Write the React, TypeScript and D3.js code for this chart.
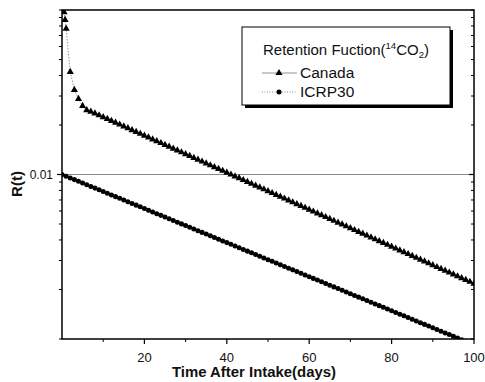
import React from 'react';
import * as d3 from 'd3';

// Canada model: first few points read individually, then one point per day from day 7
const canadaEarlyDays = [0.5, 0.75, 1, 2, 3, 4, 5, 6];
const canadaEarly = [0.097, 0.087, 0.077, 0.042, 0.0327, 0.0288, 0.0261, 0.0246];
const canadaDailyStart = 7;
const canadaDaily = [
  0.02412, 0.0235, 0.0229, 0.02232, 0.02175, 0.02119, 0.02065, 0.02012, 0.01961, 0.01911,
  0.01862, 0.01814, 0.01768, 0.01723, 0.01679, 0.01636, 0.01594, 0.01553, 0.01513, 0.01475,
  0.01437, 0.014, 0.01365, 0.0133, 0.01296, 0.01263, 0.0123, 0.01199, 0.01168, 0.01138,
  0.01109, 0.01081, 0.01053, 0.01026, 0.01, 0.009744, 0.009495, 0.009253, 0.009016, 0.008786,
  0.008561, 0.008343, 0.008129, 0.007922, 0.007719, 0.007521, 0.007329, 0.007142, 0.006959, 0.006781,
  0.006608, 0.006439, 0.006275, 0.006114, 0.005957, 0.005805, 0.005657, 0.005512, 0.005371, 0.005234,
  0.0051, 0.00497, 0.004843, 0.004719, 0.004598, 0.004481, 0.004366, 0.004254, 0.004146, 0.00404,
  0.003936, 0.003836, 0.003738, 0.003642, 0.003549, 0.003458, 0.00337, 0.003284, 0.0032, 0.003118,
  0.003038, 0.002961, 0.002885, 0.002811, 0.002739, 0.002669, 0.002601, 0.002535, 0.00247, 0.002407,
  0.002345, 0.002285, 0.002227, 0.00217,
];

// ICRP30: one point per day from day 0
const icrpStart = 0;
const icrp30 = [
  0.01, 0.009764, 0.009535, 0.00931, 0.009091, 0.008877, 0.008668, 0.008464, 0.008264, 0.00807,
  0.00788, 0.007694, 0.007513, 0.007336, 0.007163, 0.006995, 0.00683, 0.006669, 0.006512, 0.006359,
  0.006208, 0.006062, 0.005919, 0.00578, 0.005644, 0.005511, 0.005381, 0.005254, 0.005131, 0.00501,
  0.004891, 0.004776, 0.004664, 0.004554, 0.004447, 0.004342, 0.00424, 0.00414, 0.004042, 0.003947,
  0.003854, 0.003763, 0.003675, 0.003588, 0.003504, 0.003421, 0.00334, 0.003262, 0.003185, 0.00311,
  0.003036, 0.002965, 0.002895, 0.002827, 0.00276, 0.002695, 0.002632, 0.00257, 0.002509, 0.00245,
  0.002392, 0.002336, 0.002281, 0.002227, 0.002175, 0.002124, 0.002074, 0.002025, 0.001977, 0.00193,
  0.001885, 0.001841, 0.001797, 0.001755, 0.001714, 0.001673, 0.001634, 0.001595, 0.001558, 0.001521,
  0.001485, 0.00145, 0.001416, 0.001383, 0.00135, 0.001318, 0.001287, 0.001257, 0.001227, 0.001198,
  0.00117, 0.001143, 0.001116, 0.001089, 0.001064, 0.001039, 0.001014, 0.00099, 0.000967, 0.000944,
  0.000922,
];

const xTicks = [20, 40, 60, 80, 100];
const xMinorTicks = [10, 30, 50, 70, 90];
const yTickLabels = [0.01];

const W = 485;
const H = 382;
const L = 62, R = 474, T = 10, B = 339;

const FONT = "'Liberation Sans', Arial, sans-serif";

export default function App() {
  const x = d3.scaleLinear().domain([0, 100]).range([L, R]);
  const y = d3.scaleLog().domain([0.001, 0.1]).range([B, T]);

  const canada: [number, number][] = [
    ...canadaEarlyDays.map((d, i) => [d, canadaEarly[i]] as [number, number]),
    ...canadaDaily.map((v, i) => [canadaDailyStart + i, v] as [number, number]),
  ];
  const icrp: [number, number][] = icrp30.map((v, i) => [icrpStart + i, v]);

  const line = d3
    .line<[number, number]>()
    .x((d) => x(d[0]))
    .y((d) => y(d[1]));

  const tri = d3.symbol().type(d3.symbolTriangle).size(22)();
  const circ = d3.symbol().type(d3.symbolCircle).size(20)();

  const yMinor = y.ticks().filter((v) => !yTickLabels.includes(v));

  return (
    <svg width={W} height={H} style={{ position: 'absolute', left: 0, top: 0, background: '#fff' }}>
      <defs>
        <clipPath id="plot">
          <rect x={L} y={T} width={R - L} height={B - T} />
        </clipPath>
      </defs>
      <rect width={W} height={H} fill="#fff" />

      {/* gridline at 0.01 */}
      <line x1={L} x2={R} y1={y(0.01)} y2={y(0.01)} stroke="#888" strokeWidth={1} />

      <g clipPath="url(#plot)">
        <path d={line(canada) || ''} fill="none" stroke="#777" strokeWidth={0.8} strokeDasharray="1.5,1.5" />
        <path d={line(icrp) || ''} fill="none" stroke="#777" strokeWidth={0.8} strokeDasharray="1,2" />
        {canada.map((d, i) => (
          <path key={'c' + i} d={tri || ''} transform={`translate(${x(d[0])},${y(d[1])})`} fill="#000" />
        ))}
        {icrp.map((d, i) => (
          <path key={'i' + i} d={circ || ''} transform={`translate(${x(d[0])},${y(d[1])})`} fill="#000" />
        ))}
      </g>

      {/* frame */}
      <rect x={L} y={T} width={R - L} height={B - T} fill="none" stroke="#000" strokeWidth={1.5} />

      {/* x ticks */}
      {xTicks.map((t) => (
        <g key={'xt' + t}>
          <line x1={x(t)} x2={x(t)} y1={B} y2={B + 5} stroke="#000" strokeWidth={1.2} />
          <text x={x(t)} y={362} fontFamily={FONT} fontSize={13} textAnchor="middle" fill="#111">
            {t}
          </text>
        </g>
      ))}
      {xMinorTicks.map((t) => (
        <line key={'xm' + t} x1={x(t)} x2={x(t)} y1={B} y2={B + 3} stroke="#000" strokeWidth={1} />
      ))}

      {/* y ticks */}
      {yTickLabels.map((t) => (
        <g key={'yt' + t}>
          <line x1={L - 5} x2={L} y1={y(t)} y2={y(t)} stroke="#000" strokeWidth={1.2} />
          <line x1={R - 5} x2={R} y1={y(t)} y2={y(t)} stroke="#000" strokeWidth={1.2} />
          <text x={53} y={y(t) + 4} fontFamily={FONT} fontSize={12} textAnchor="end" fill="#111">
            {t}
          </text>
        </g>
      ))}
      {yMinor.map((t, i) => (
        <g key={'ym' + i}>
          <line x1={L - 3} x2={L} y1={y(t)} y2={y(t)} stroke="#000" strokeWidth={1} />
          <line x1={R - 3} x2={R} y1={y(t)} y2={y(t)} stroke="#000" strokeWidth={1} />
        </g>
      ))}

      {/* axis titles */}
      <text x={254} y={377} fontFamily={FONT} fontSize={14.5} fontWeight="bold" textAnchor="middle"
        textLength={164} lengthAdjust="spacingAndGlyphs" fill="#111">
        Time After Intake(days)
      </text>
      <text transform={`translate(22,184) rotate(-90)`} fontFamily={FONT} fontSize={15} fontWeight="bold"
        textAnchor="middle" fill="#111">
        R(t)
      </text>

      {/* legend */}
      <rect x={245} y={30} width={208} height={78} fill="#000" />
      <rect x={242} y={27} width={208} height={78} fill="#fff" stroke="#000" strokeWidth={1} />
      <text x={263} y={55} fontFamily={FONT} fontSize={15} fill="#111">
        Retention Fuction(
        <tspan fontSize={9.5} dy={-6}>14</tspan>
        <tspan dy={6}>CO</tspan>
        <tspan fontSize={9.5} dy={3}>2</tspan>
        <tspan dy={-3}>)</tspan>
      </text>
      <line x1={262} x2={297} y1={73} y2={73} stroke="#777" strokeWidth={0.8} />
      <path d={tri || ''} transform="translate(279,73)" fill="#000" />
      <text x={300} y={78} fontFamily={FONT} fontSize={15.5} fill="#111">Canada</text>
      <line x1={262} x2={297} y1={92} y2={92} stroke="#777" strokeWidth={0.8} strokeDasharray="1,1.5" />
      <path d={circ || ''} transform="translate(279,92)" fill="#000" />
      <text x={300} y={97} fontFamily={FONT} fontSize={15.5} fill="#111">ICRP30</text>
    </svg>
  );
}
